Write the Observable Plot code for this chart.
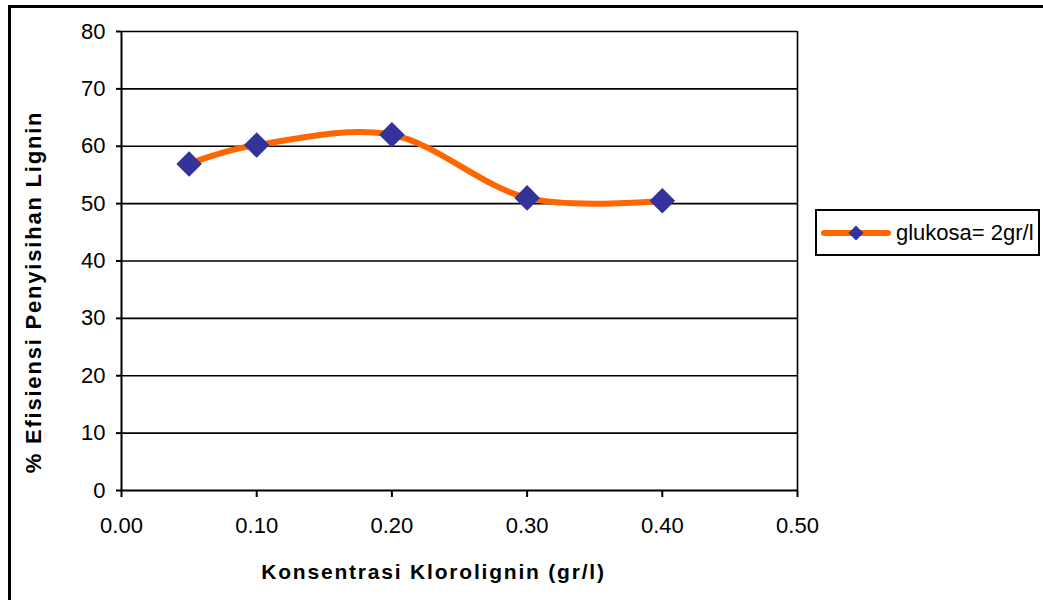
<!DOCTYPE html>
<html>
<head>
<meta charset="utf-8">
<script src="https://cdn.jsdelivr.net/npm/d3@7"></script>
<script src="https://cdn.jsdelivr.net/npm/@observablehq/plot@0.6"></script>
<style>
  html, body { margin: 0; padding: 0; background: #fff; }
  body { width: 1043px; height: 600px; position: relative; overflow: hidden; font-family: "Liberation Sans", Arial, sans-serif; }
  #border { position: absolute; left: 8px; top: 5px; width: 1100px; height: 700px; border-left: 3px solid #000; border-top: 3px solid #000; box-sizing: border-box; }
  #chart { position: absolute; left: 0; top: 0; }
  #legend { position: absolute; left: 815px; top: 209px; width: 225px; height: 47px; border: 2px solid #000; box-sizing: border-box; background: #fff; display: flex; align-items: center; }
  #legend span { font-size: 22px; color: #000; margin-left: 3px; }
</style>
</head>
<body>
<div id="border"></div>
<div id="chart"></div>
<div id="legend"></div>
<script>
const konsentrasi = [0.05, 0.10, 0.20, 0.30, 0.40];
const efisiensi = [56.9, 60.2, 62.0, 51.0, 50.5];
const seriesName = "glukosa= 2gr/l";
const xTicks = [0, 0.1, 0.2, 0.3, 0.4, 0.5];
const yTicks = [0, 10, 20, 30, 40, 50, 60, 70, 80];
const xTitle = "Konsentrasi Klorolignin (gr/l)";
const yTitle = "% Efisiensi Penyisihan Lignin";

const data = konsentrasi.map((x, i) => ({x, y: efisiensi[i]}));
const lineColor = "#FF6600";
const markerColor = "#333399";

const chart = Plot.plot({
  width: 1043,
  height: 600,
  marginLeft: 121,
  marginTop: 31,
  marginRight: 246,
  marginBottom: 110,
  style: {fontFamily: "'Liberation Sans', Arial, sans-serif", fontSize: "22px", color: "#000", background: "transparent"},
  x: {domain: [0, 0.5], ticks: xTicks},
  y: {domain: [0, 80], ticks: yTicks},
  marks: [
    Plot.ruleY(yTicks.filter(d => d > 0), {stroke: "#000", strokeWidth: 1.6}),
    Plot.ruleX([0.5], {stroke: "#000", strokeWidth: 1.6}),
    Plot.ruleX([0], {stroke: "#000", strokeWidth: 2}),
    Plot.ruleY([0], {stroke: "#000", strokeWidth: 2}),
    Plot.axisY({ticks: yTicks, tickSize: 5, tickPadding: 11, strokeWidth: 2, label: null, fontSize: 22}),
    Plot.axisX({ticks: xTicks, tickSize: 7, tickPadding: 20, strokeWidth: 2, tickFormat: d3.format(".2f"), label: null, fontSize: 22}),
    Plot.line(data, {x: "x", y: "y", stroke: lineColor, strokeWidth: 6, curve: "cardinal"}),
    Plot.dot(data, {x: "x", y: "y", symbol: "diamond2", r: 11.5, fill: markerColor, stroke: "none"}),
    Plot.text([xTitle], {frameAnchor: "bottom", textAnchor: "middle", dy: 88, dx: -26, fontWeight: "bold", fontSize: 21, fill: "#000"}),
    Plot.text([yTitle], {frameAnchor: "left", textAnchor: "middle", rotate: -90, dx: -88, dy: 31, fontWeight: "bold", fontSize: 22, fill: "#000"})
  ]
});
document.getElementById("chart").appendChild(chart);
d3.select(chart).selectAll("text").filter(function() { return this.textContent === xTitle; }).style("letter-spacing", "1.8px");
d3.select(chart).selectAll("text").filter(function() { return this.textContent === yTitle; }).style("letter-spacing", "1.8px");

// Legend
const leg = document.getElementById("legend");
const ls = d3.create("svg").attr("width", 72).attr("height", 30).style("margin-left", 4);
ls.append("line").attr("x1", 3).attr("x2", 67).attr("y1", 15).attr("y2", 15).attr("stroke", lineColor).attr("stroke-width", 6).attr("stroke-linecap", "round");
ls.append("path").attr("d", d3.symbol(d3.symbolDiamond2, 140)()).attr("transform", "translate(35,15)").attr("fill", markerColor);
leg.appendChild(ls.node());
const sp = document.createElement("span");
sp.textContent = seriesName;
leg.appendChild(sp);
</script>
</body>
</html>
